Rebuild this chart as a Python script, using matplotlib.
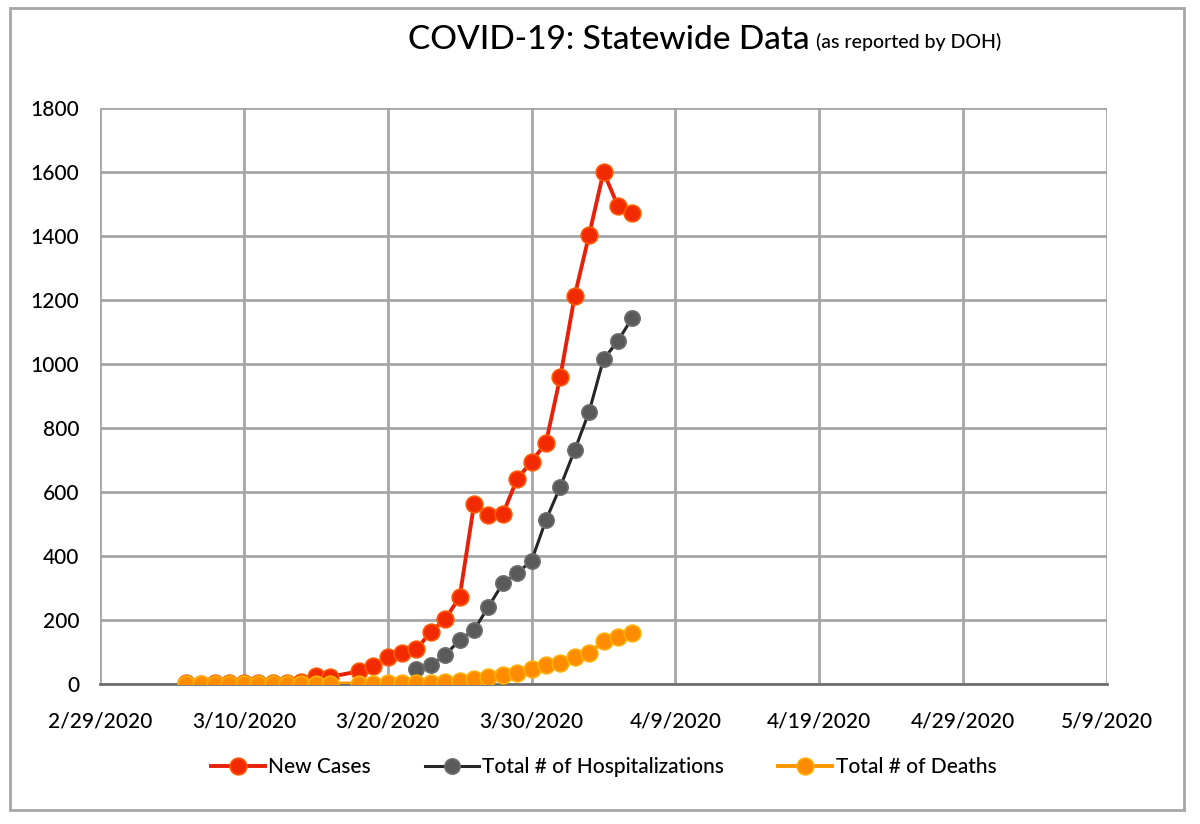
import matplotlib
matplotlib.use('Agg')
import matplotlib.pyplot as plt
import matplotlib.dates as mdates
from matplotlib.patches import Rectangle
from matplotlib.ticker import FuncFormatter
import pandas as pd

plt.rcParams['font.family'] = ['Lato', 'DejaVu Sans']
plt.rcParams['font.weight'] = 'medium'

# Dane (3/17 brak w zrodle)
daty = ['2020-03-06', '2020-03-07', '2020-03-08', '2020-03-09', '2020-03-10',
        '2020-03-11', '2020-03-12', '2020-03-13', '2020-03-14', '2020-03-15',
        '2020-03-16', '2020-03-18', '2020-03-19', '2020-03-20', '2020-03-21',
        '2020-03-22', '2020-03-23', '2020-03-24', '2020-03-25', '2020-03-26',
        '2020-03-27', '2020-03-28', '2020-03-29', '2020-03-30', '2020-03-31',
        '2020-04-01', '2020-04-02', '2020-04-03', '2020-04-04', '2020-04-05',
        '2020-04-06']
nowe_przypadki = [1, 0, 1, 2, 1, 2, 3, 2, 4, 23, 21, 38, 54, 84, 96,
                  107, 162, 202, 270, 560, 527, 530, 640, 694, 753,
                  960, 1213, 1403, 1600, 1494, 1473]
hospitalizacje = [None] * 15 + [44, 58, 89, 136, 167, 240, 313, 345, 384,
                                511, 616, 730, 850, 1014, 1071, 1144]
zgony = [0, 0, 0, 0, 0, 0, 0, 0, 0, 0, 0, 0, 0, 1, 1, 2, 3, 5, 7, 13,
         21, 27, 34, 44, 58, 65, 84, 94, 134, 146, 157]

etykiety = ['New Cases', 'Total # of Hospitalizations', 'Total # of Deaths']

x = pd.to_datetime(daty)
hosp = pd.Series(hospitalizacje, dtype=float)

fig = plt.figure(figsize=(12, 8.24), dpi=100)
ax = fig.add_axes([100 / 1200, 1 - 683.5 / 824, 1007 / 1200, 575.5 / 824])

# Ramka wokol calego wykresu
fig.patches.append(Rectangle((10 / 1200, 1 - 810 / 824), 1174 / 1200, 802 / 824,
                             transform=fig.transFigure, fill=False,
                             edgecolor='#a6a6a6', linewidth=2))

ax.plot(x, nowe_przypadki, color='#e8200a', linewidth=2.8, marker='o',
        markersize=12, markerfacecolor='#f22a00', markeredgecolor='#ff5a00',
        markeredgewidth=1.2, label=etykiety[0], zorder=3)
ax.plot(x, hosp, color='#262626', linewidth=2.2, marker='o',
        markersize=11, markerfacecolor='#5a5a5a', markeredgecolor='#6e6e6e',
        markeredgewidth=1.2, label=etykiety[1], zorder=4)
ax.plot(x, zgony, color='#ff9500', linewidth=2.8, marker='o',
        markersize=12, markerfacecolor='#ff8c00', markeredgecolor='#ffb000',
        markeredgewidth=1.2, label=etykiety[2], zorder=5)

ax.set_xlim(pd.Timestamp('2020-02-29'), pd.Timestamp('2020-05-09'))
ax.set_ylim(0, 1800)
ax.set_yticks(range(0, 1801, 200))
ticki = pd.date_range('2020-02-29', '2020-05-09', freq='10D')
ax.set_xticks(ticki)
ax.xaxis.set_major_formatter(FuncFormatter(
    lambda v, p: '{0.month}/{0.day}/{0.year}'.format(mdates.num2date(v))))

ax.grid(True, color='#a6a6a6', linewidth=2)
ax.set_axisbelow(True)
for s in ['top', 'left', 'right']:
    ax.spines[s].set_visible(False)
ax.spines['bottom'].set_color('#6e6e6e')
ax.spines['bottom'].set_linewidth(2)
ax.tick_params(axis='both', length=0, labelsize=15, colors='black')
ax.tick_params(axis='y', pad=15)
ax.tick_params(axis='x', pad=20)

fig.text(0.34, 1 - 40 / 824, 'COVID-19: Statewide Data', fontsize=24,
         va='center', ha='left')
fig.text(0.68, 1 - 42 / 824, '(as reported by DOH)', fontsize=14,
         va='center', ha='left')

ax.legend(loc='upper center', bbox_to_anchor=(0.5, -0.095), ncol=3,
          frameon=False, fontsize=15, handlelength=2.6, columnspacing=2.6,
          handletextpad=0.15)

plt.savefig('out.png', dpi=100)
